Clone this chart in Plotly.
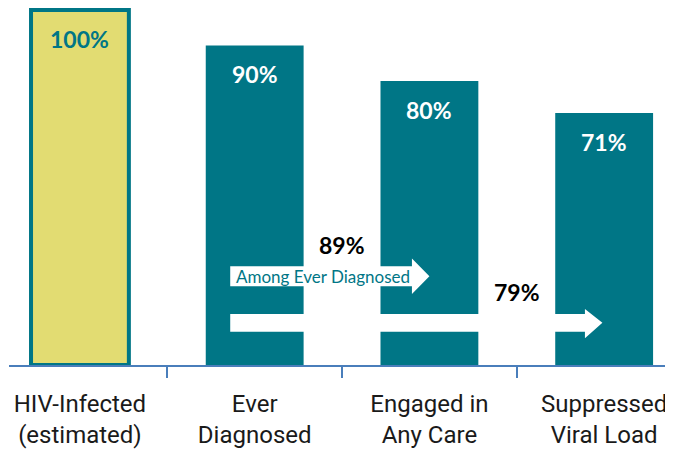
import plotly.graph_objects as go

# data
stages = ["HIV-Infected<br>(estimated)", "Ever<br>Diagnosed", "Engaged in<br>Any Care", "Suppressed<br>Viral Load"]
pct_of_infected = [100, 90, 80, 71]
pct_among_diagnosed = [89, 79]
arrow_label = "Among Ever Diagnosed"

TEAL = "#007686"
YELLOW = "#E2DC72"
AXIS_BLUE = "#4A7EBB"

x_pos = list(range(len(stages)))

fig = go.Figure()

fig.add_trace(go.Bar(
    x=x_pos,
    y=pct_of_infected,
    width=0.56,
    marker=dict(
        color=[YELLOW] + [TEAL] * 3,
        line=dict(color=[TEAL, TEAL, TEAL, TEAL], width=[4, 0, 0, 0]),
    ),
    hoverinfo="skip",
))

# value labels inside bars
for i, v in enumerate(pct_of_infected):
    fig.add_annotation(
        x=i, y=v, yshift=-29, text=f"<b>{v}%</b>", showarrow=False,
        font=dict(family="Lato", size=23, color=TEAL if i == 0 else "white"),
    )


def arrow_path(x0, x1, head_x, y_lo, y_hi, head_lo, head_hi):
    ym = (y_lo + y_hi) / 2
    return (f"M {x0},{y_lo} L {head_x},{y_lo} L {head_x},{head_lo} L {x1},{ym} "
            f"L {head_x},{head_hi} L {head_x},{y_hi} L {x0},{y_hi} Z")


# white arrows
fig.add_shape(type="path", xref="x", yref="y",
              path=arrow_path(0.86, 2.0, 1.90, 22.2, 27.8, 20.0, 30.0),
              fillcolor="white", line=dict(width=0))
fig.add_shape(type="path", xref="x", yref="y",
              path=arrow_path(0.86, 2.99, 2.89, 9.4, 14.4, 7.5, 15.8),
              fillcolor="white", line=dict(width=0))

fig.add_annotation(x=1.39, y=25, text=arrow_label, showarrow=False,
                   font=dict(family="Lato", size=17, color=TEAL))

# percentages among diagnosed, in the gaps between bars
for xi, yi, v in zip([1.5, 2.5], [33.9, 20.6], pct_among_diagnosed):
    fig.add_annotation(x=xi, y=yi, text=f"<b>{v}%</b>", showarrow=False,
                       font=dict(family="Lato", size=23, color="black"))

# page body adds an 8px offset, so the figure is sized to fit the window
fig.update_layout(
    width=665, height=441,
    margin=dict(l=1, r=0, t=0, b=79),
    paper_bgcolor="white",
    plot_bgcolor="white",
    showlegend=False,
    xaxis=dict(
        range=[-0.406, 3.394],
        tickmode="array",
        tickvals=x_pos,
        ticktext=stages,
        ticks="outside",
        ticklen=16,
        tickcolor="rgba(0,0,0,0)",
        tickfont=dict(family="Roboto", size=24, color="#1a1a1a"),
        showline=True,
        linecolor=AXIS_BLUE,
        linewidth=1.5,
        showgrid=False,
        zeroline=False,
        minor=dict(tickmode="linear", tick0=0.5, dtick=1, ticks="outside",
                   ticklen=11, tickcolor=AXIS_BLUE, tickwidth=1.5, showgrid=False),
    ),
    yaxis=dict(
        range=[0, 100.56],
        visible=False,
        showgrid=False,
        zeroline=False,
    ),
)

fig.write_html("out.html")
